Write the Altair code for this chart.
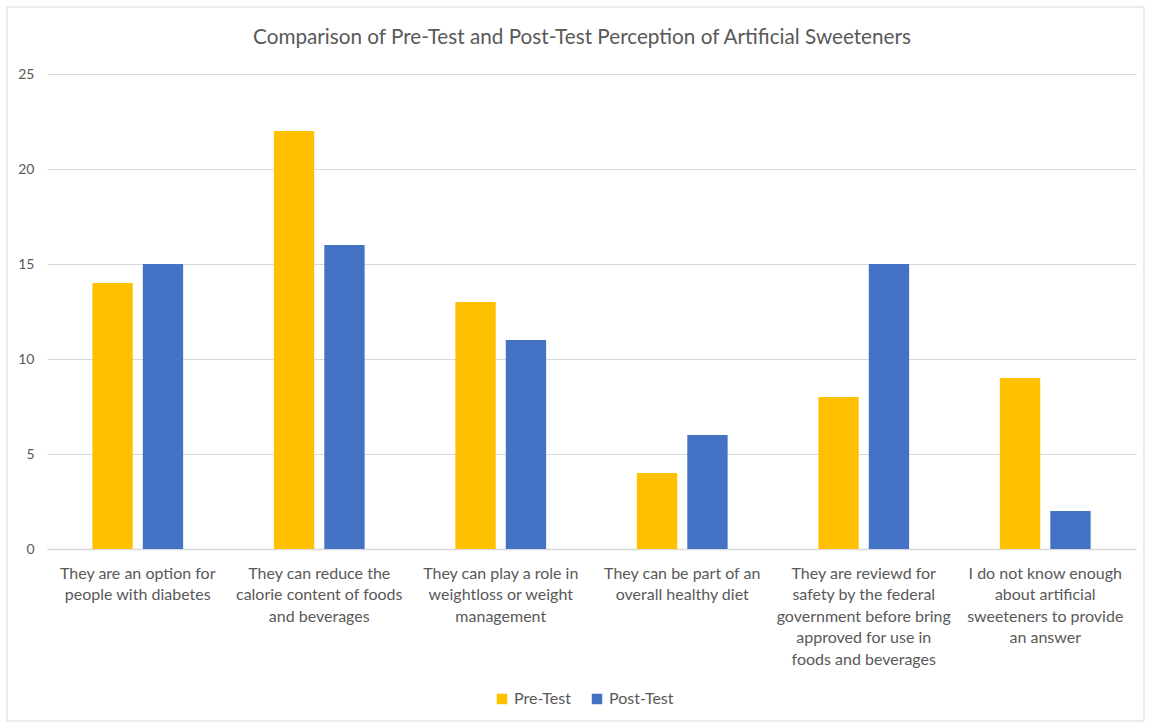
import altair as alt
import pandas as pd

title_text = "Comparison of Pre-Test and Post-Test Perception of Artificial Sweeteners"
categories = [
    "They are an option for\npeople with diabetes",
    "They can reduce the\ncalorie content of foods\nand beverages",
    "They can play a role in\nweightloss or weight\nmanagement",
    "They can be part of an\noverall healthy diet",
    "They are reviewd for\nsafety by the federal\ngovernment before bring\napproved for use in\nfoods and beverages",
    "I do not know enough\nabout artificial\nsweeteners to provide\nan answer",
]
series = ["Pre-Test", "Post-Test"]
pre_test = [14, 22, 13, 4, 8, 9]
post_test = [15, 16, 11, 6, 15, 2]
colors = ["#FFC000", "#4472C4"]

rows = []
for c, a, b in zip(categories, pre_test, post_test):
    rows.append({"category": c, "series": "Pre-Test", "value": a})
    rows.append({"category": c, "series": "Post-Test", "value": b})
df = pd.DataFrame(rows)

W, H = 1089, 475
FONT = "Lato"
GRAY = "#595959"

bars = alt.Chart(df).mark_bar().encode(
    x=alt.X("category:N", sort=categories,
            scale=alt.Scale(paddingInner=0.5, paddingOuter=0.25),
            axis=alt.Axis(title=None, labelAngle=0, labelExpr="split(datum.label, '\\n')",
                          labelFontSize=16, labelColor=GRAY, labelFont=FONT,
                          labelPadding=16, labelLineHeight=21.5, ticks=False,
                          domainColor="#D9D9D9", domainWidth=1.5)),
    xOffset=alt.XOffset("series:N", sort=series, scale=alt.Scale(paddingInner=0.2)),
    y=alt.Y("value:Q", scale=alt.Scale(domain=[0, 25]),
            axis=alt.Axis(title=None, values=[0, 5, 10, 15, 20, 25], domain=False, ticks=False,
                          labelFontSize=14, labelColor=GRAY, labelFont=FONT, labelPadding=13,
                          gridColor="#D9D9D9", gridWidth=1)),
    color=alt.Color("series:N", sort=series,
                    scale=alt.Scale(domain=series, range=colors),
                    legend=alt.Legend(title=None, orient="none", direction="horizontal",
                                      legendX=447, legendY=617, symbolType="square",
                                      symbolSize=110, labelFontSize=16, labelColor=GRAY,
                                      labelFont=FONT, columnPadding=18, symbolStrokeWidth=0)),
)

border = alt.Chart(pd.DataFrame({"k": [0]})).mark_rect(
    fill=None, stroke="#D9D9D9", strokeWidth=1, clip=False
).encode(x=alt.value(-40), x2=alt.value(W + 8), y=alt.value(-67), y2=alt.value(H + 172))

title = alt.Chart(pd.DataFrame({"t": [title_text]})).mark_text(
    font=FONT, fontSize=20.7, color=GRAY, align="center", baseline="middle"
).encode(text="t:N", x=alt.value(535), y=alt.value(-36))

chart = alt.layer(border, bars, title).properties(
    width=W, height=H,
    autosize=alt.AutoSizeParams(type="none"),
    padding={"left": 47, "top": 74, "right": 16, "bottom": 175},
).configure_view(stroke=None)

chart.save("out.html", embed_options={"renderer": "svg", "actions": False})
